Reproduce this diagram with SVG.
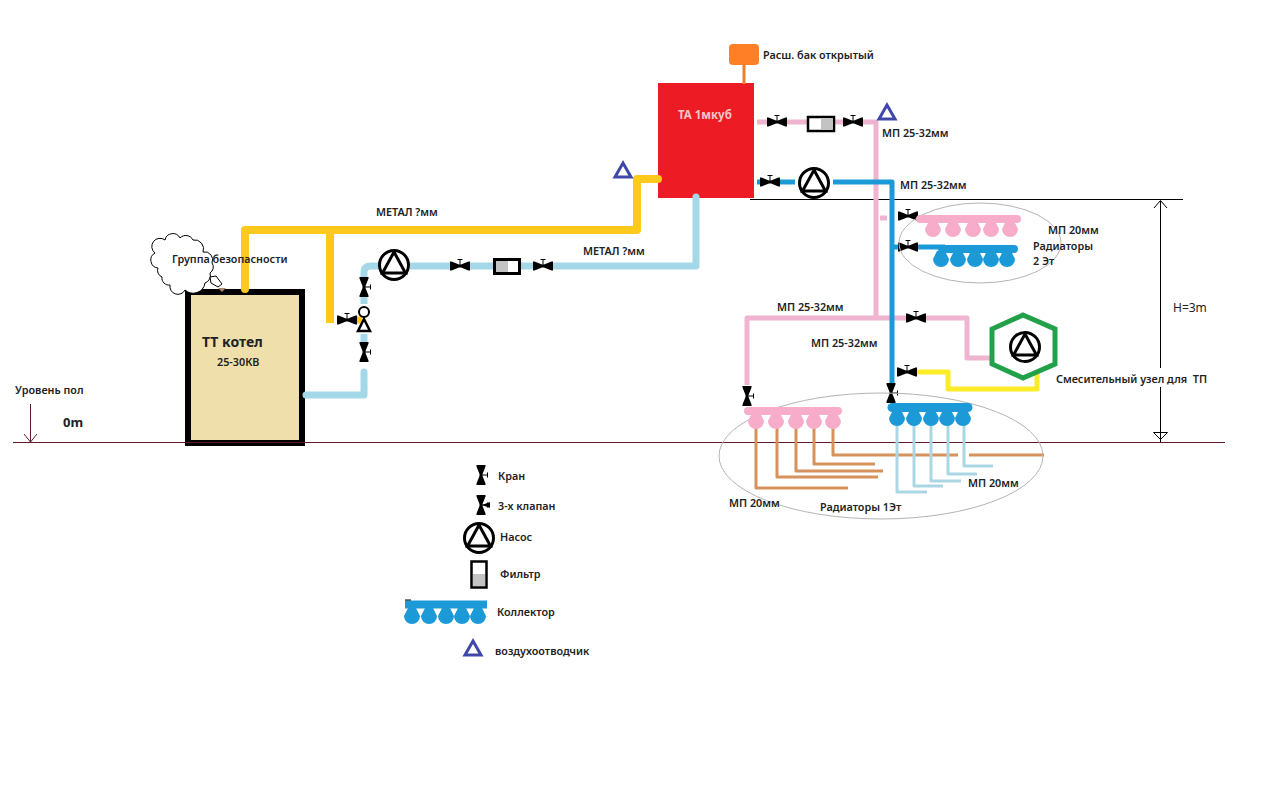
<svg xmlns="http://www.w3.org/2000/svg" width="1280" height="800" viewBox="0 0 1280 800">
<style>
text{font-family:"Noto Sans","Liberation Sans",sans-serif;font-size:10.800px;font-weight:600;fill:#222}
.p{fill:none;stroke-linejoin:round;stroke-linecap:butt}
.rc{stroke-linecap:round}
.y{stroke:#fdc91c;stroke-width:8}
.lb{stroke:#a4d8e8;stroke-width:7}
.pk{stroke:#efb4d0;stroke-width:5}
.bl{stroke:#1c9ad8;stroke-width:5}
.ye{stroke:#fbec27;stroke-width:5}
.or{stroke:#d6925a;stroke-width:3}
.pl{stroke:#abd6e4;stroke-width:3}
.thin{fill:none;stroke:#000;stroke-width:1}
.gnd{fill:none;stroke:#5e1a26;stroke-width:1}
.ell{fill:none;stroke:#b4b4b4;stroke-width:1}
.air{fill:none;stroke:#3f48a8;stroke-width:3}
</style>
<defs>
<g id="valveH"><path d="M-10-4.500V4.500H-8.500L-1 1.500H1L8.500 4.500H10V-4.500H8.500L1-1.500H-1L-8.500-4.500Z" fill="#000"/><path d="M0 0V-6.500M-2.500-6.500H2.500" stroke="#000" stroke-width="1" fill="none"/></g>
<use id="valveV" href="#valveH" transform="rotate(90)"/>
<g id="pump"><circle r="14.500" fill="#fff" stroke="#000" stroke-width="3"/><path d="M0-13L11.500 8H-11.500Z" fill="none" stroke="#000" stroke-width="3"/></g>
<path id="airv" class="air" d="M0-7L8 7H-8Z"/>
<path id="bulb" d="M-4-8H4L8 0A8 8 0 1 1-8 0Z"/>
<g id="bulbsP" fill="#f7adc9"><use href="#bulb"/><use href="#bulb" x="20"/><use href="#bulb" x="40"/><use href="#bulb" x="58"/><use href="#bulb" x="77"/></g>
<g id="bulbsB" fill="#1c9ad8"><use href="#bulb"/><use href="#bulb" x="17"/><use href="#bulb" x="34"/><use href="#bulb" x="50"/><use href="#bulb" x="66"/></g>
</defs>

<g id="boiler">
<rect x="188" y="292" width="114" height="151" fill="#efe0ab" stroke="#000" stroke-width="6"/>
<text x="202" y="347" style="font-size:14px;font-weight:700">ТТ котел</text>
<text x="217" y="366">25-30КВ</text>
</g>
<g id="tank">
<rect x="658" y="83" width="96" height="115" fill="#ed1c24"/>
<text x="678" y="119" style="fill:#f6c6c6;font-size:11.500px;font-weight:700">ТА 1мкуб</text>
</g>

<g id="connectors">
<path class="gnd" d="M13 442.500H1225"/>
<path class="thin" d="M750 199.500H1183"/>
<path class="thin" d="M1160.500 201V368M1160.500 387V442M1154 208L1160.500 200.500L1167 208M1153.500 432.500H1167.500L1160.500 439.500Z"/>
<path class="gnd" d="M30.500 404V442M24 434L30.500 442L37 434"/>

<path class="p y rc" d="M245 289V230H637V179H658"/>
<path class="p y" d="M330 230V323"/>
<path class="p" stroke="#fdc91c" stroke-width="7" d="M357 320H362"/>
<path class="p lb rc" d="M306 395H364V372"/>
<path class="p lb" d="M364 343V334"/>
<path class="p lb" d="M364 304V297"/>
<path class="p lb" d="M364 277V272Q364 266 371 266H379"/>
<path class="p lb" d="M410 266H450"/>
<path class="p lb" d="M470 266H493"/>
<path class="p lb" d="M521 266H533"/>
<path class="p lb rc" d="M553 266H696V197"/>

<path class="p pk" d="M757 122H767"/>
<path class="p pk" d="M787 122H807"/>
<path class="p pk" d="M835 122H843"/>
<path class="p pk" d="M863 122H876V318"/>
<path class="p pk" d="M880 218H887"/>
<path class="p pk" d="M747 385V318H906"/>
<path class="p pk" d="M926 318H967V358H991"/>
<path class="p bl" d="M757 182H760"/>
<path class="p bl" d="M780 182H795"/>
<path class="p bl" d="M833 182H892V383"/>
<path class="p bl" d="M892 247H898"/>
<path class="p bl" d="M918 247H945"/>
<path class="p ye" d="M917 372H948V389H1037V372"/>
<path class="p" stroke="#ee7f2c" stroke-width="3" d="M744 65V84"/>

<path class="p or" d="M756 425V488H848"/>
<path class="p or" d="M777 425V477H878"/>
<path class="p or" d="M796 425V471H883"/>
<path class="p or" d="M814 425V464H875"/>
<path class="p or" d="M833 425V455H958"/>
<path class="p or" d="M969 455H1044"/>
<path class="p pl" d="M897 422V492H927"/>
<path class="p pl" d="M914 422V486H943"/>
<path class="p pl" d="M931 422V481H961"/>
<path class="p pl" d="M948 422V474H977"/>
<path class="p pl" d="M964 422V466H993"/>

<use href="#valveH" x="777" y="122"/>
<use href="#valveH" x="853" y="122"/>
<use href="#valveH" x="770" y="182"/>
<use href="#valveH" x="908" y="216"/>
<use href="#valveH" x="908" y="247"/>
<use href="#valveH" x="916" y="318"/>
<use href="#valveH" x="907" y="372"/>
<use href="#valveH" x="347" y="320"/>
<use href="#valveH" x="460" y="266"/>
<use href="#valveH" x="543" y="266"/>
<use href="#valveV" x="364" y="287"/>
<use href="#valveV" x="364" y="352"/>
<use href="#valveV" x="747" y="396"/>
<use href="#valveV" x="891" y="393"/>
</g>

<g id="ellipses">
<ellipse class="ell" cx="980" cy="243" rx="81" ry="40"/>
<ellipse class="ell" cx="881" cy="456" rx="162" ry="63"/>
</g>

<g id="safety-group">
<path d="M165 240A8 8 0 0 1 180 238A8 8 0 0 1 193 240A9 9 0 0 1 203 252A8 8 0 0 1 212 263A7 7 0 0 1 210 273A8 8 0 0 1 205 283A12 12 0 0 1 185 290A8 8 0 0 1 170 285A7 7 0 0 1 162 277A7 7 0 0 1 158 268A8 8 0 0 1 155 253A8 8 0 0 1 165 240Z" fill="#fff" stroke="#000" stroke-width="1"/>
<path d="M210 277L216 276L222 284L218 287L211 283Z" fill="#fff" stroke="#000" stroke-width="1"/>
<path d="M218 288H226L222 292Z" fill="#b08a70"/>
<text x="172" y="263">Группа безопасности</text>
</g>
<g id="expansion-tank">
<rect x="729" y="44" width="30" height="21" rx="4" fill="#ff7f27"/>
<text x="763" y="59">Расш. бак открытый</text>
</g>
<g id="pump-boiler"><use href="#pump" x="394" y="265"/></g>
<g id="pump-tank"><use href="#pump" x="814" y="183"/></g>
<g id="three-way">
<circle cx="364" cy="312" r="5" fill="#fff" stroke="#000" stroke-width="2"/>
<path d="M364 319L370 331H358Z" fill="none" stroke="#000" stroke-width="2.500"/>
</g>
<g id="filter-boiler">
<rect x="494.500" y="259.500" width="25" height="14" fill="#fff" stroke="#000" stroke-width="3"/>
<rect x="496" y="261" width="12" height="11" fill="#c3c3c3"/>
</g>
<g id="filter-tank">
<rect x="808" y="117" width="26" height="14" fill="#fff" stroke="#000" stroke-width="2.500"/>
<rect x="821" y="118" width="11.500" height="12" fill="#c3c3c3"/>
</g>
<g id="air-tank"><use href="#airv" x="623" y="170"/></g>
<g id="air-pink"><use href="#airv" x="887" y="112"/></g>
<g id="mixing-unit">
<path d="M1023 315L1055 329V364L1023 378L992 364V329Z" fill="#fff" stroke="#22a14a" stroke-width="5"/>
<use href="#pump" x="1025" y="347"/>
</g>
<g id="collector-2-pink">
<use href="#bulbsP" x="933" y="229"/>
<path d="M920 219H1017" stroke="#f7adc9" stroke-width="8" stroke-linecap="round"/>
</g>
<g id="collector-2-blue">
<use href="#bulbsB" x="941" y="259"/>
<path d="M942 249H1014" stroke="#1c9ad8" stroke-width="8" stroke-linecap="round"/>
</g>
<g id="collector-1-pink">
<use href="#bulbsP" x="756" y="421"/>
<path d="M748 411H838" stroke="#f7adc9" stroke-width="8" stroke-linecap="round"/>
</g>
<g id="collector-1-blue">
<use href="#bulbsB" x="897" y="418"/>
<path d="M892 407.500H968" stroke="#1c9ad8" stroke-width="9" stroke-linecap="round"/>
</g>

<g id="labels">
<text x="15" y="394">Уровень пол</text>
<text x="63" y="427" style="font-size:13px;font-weight:700">0m</text>
<text x="376" y="216">МЕТАЛ ?мм</text>
<text x="583" y="255">МЕТАЛ ?мм</text>
<text x="882" y="137">МП 25-32мм</text>
<text x="900" y="189">МП 25-32мм</text>
<text x="777" y="311">МП 25-32мм</text>
<text x="811" y="347">МП 25-32мм</text>
<text x="1048" y="234">МП 20мм</text>
<text x="1033" y="250">Радиаторы</text>
<text x="1033" y="265">2 Эт</text>
<text x="1056" y="383" xml:space="preserve">Смесительный узел для  ТП</text>
<text x="729" y="507">МП 20мм</text>
<text x="968" y="487">МП 20мм</text>
<text x="820" y="511">Радиаторы 1Эт</text>
<text x="1173" y="312" style="font-size:12px;font-weight:400">H=3m</text>
</g>

<g id="legend">
<use href="#valveV" x="481" y="475"/>
<text x="498" y="480">Кран</text>
<use href="#valveV" x="481" y="505"/>
<path d="M482 505L490 502V508Z" fill="#000"/>
<text x="498" y="510">3-х клапан</text>
<use href="#pump" x="479" y="538"/>
<text x="500" y="541">Насос</text>
<rect x="471.500" y="561.500" width="15" height="26" fill="#fff" stroke="#000" stroke-width="2.500"/>
<rect x="473" y="574" width="12" height="12" fill="#c3c3c3"/>
<text x="500" y="578">Фильтр</text>
<use href="#bulbsB" x="412" y="616"/>
<path d="M405 604.500H487" stroke="#1c9ad8" stroke-width="8"/>
<path d="M405 600H411" stroke="#000"/>
<text x="497" y="616">Коллектор</text>
<use href="#airv" x="473" y="648"/>
<text x="495" y="655">воздухоотводчик</text>
</g>
</svg>
